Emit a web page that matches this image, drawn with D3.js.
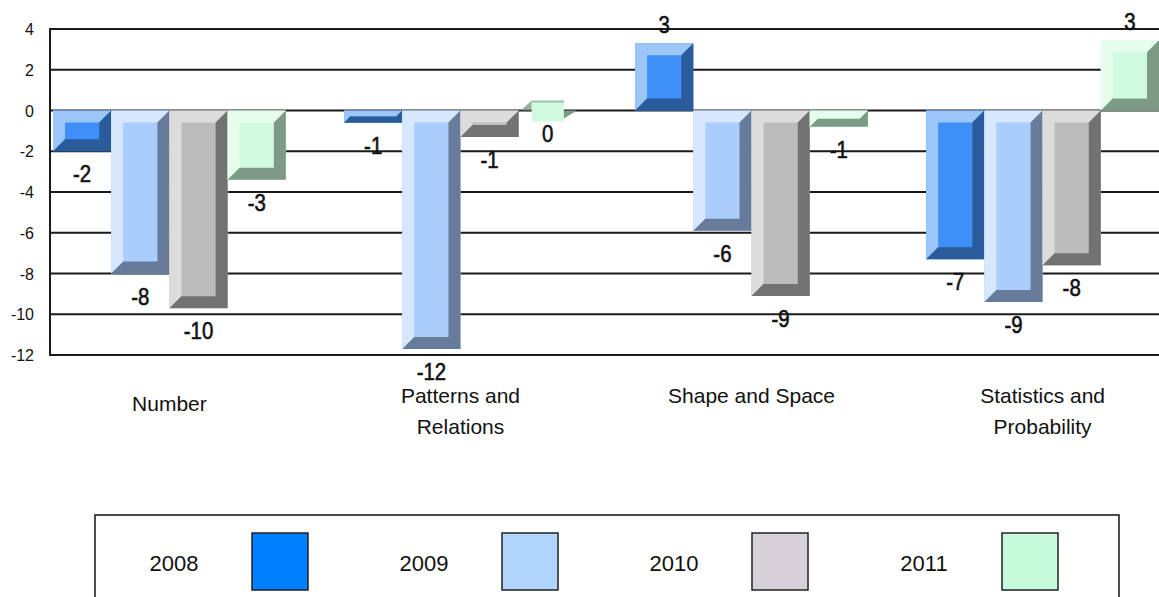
<!DOCTYPE html>
<html>
<head>
<meta charset="utf-8">
<script src="https://cdn.jsdelivr.net/npm/d3@7"></script>
<style>
  html, body { margin: 0; padding: 0; background: #fff; }
  svg { display: block; }
</style>
</head>
<body>
<div id="vis"></div>
<script>
// chart data
var categories = ["Number", "Patterns and Relations", "Shape and Space", "Statistics and Probability"];
var categoryLines = [["Number"], ["Patterns and", "Relations"], ["Shape and Space", ""], ["Statistics and", "Probability"]];
var years = ["2008", "2009", "2010", "2011"];
var values2008 = [-2.0, -0.6, 3.3, -7.3];
var values2009 = [-8.0, -11.7, -5.9, -9.4];
var values2010 = [-9.7, -1.3, -9.1, -7.6];
var values2011 = [-3.4, 0, -0.8, 3.45];
var yTicks = [4, 2, 0, -2, -4, -6, -8, -10, -12];

var series = [values2008, values2009, values2010, values2011];
var faceColors  = ["#3f8ff8", "#aacdfc", "#bcbcbc", "#d0fbe0"];
var lightColors = ["#9cc6f8", "#d6e7ff", "#dcdcdc", "#e6fdee"];
var darkColors  = ["#2a5c9c", "#667c9a", "#727272", "#7c9a85"];
var legendColors = ["#007fff", "#b0d4fc", "#d6d1d8", "#c6fbdc"];

var font = "'Liberation Sans', Arial, Helvetica, sans-serif";
var W = 1159, H = 597;

var svg = d3.select("#vis").append("svg")
    .attr("width", W)
    .attr("height", H);

var y = d3.scaleLinear().domain([-12, 4]).range([355, 29]);
var x = d3.scaleBand().domain(categories).range([53, 1159]).paddingInner(0.2).paddingOuter(0);
var xs = d3.scaleBand().domain(years).range([0, x.bandwidth()]);

var axisX = 50;

// gridlines
svg.append("g").selectAll("line")
    .data(yTicks)
    .join("line")
    .attr("x1", axisX)
    .attr("x2", W)
    .attr("y1", d => y(d))
    .attr("y2", d => y(d))
    .attr("stroke", "#1a1a1a")
    .attr("stroke-width", 2);

svg.append("line")
    .attr("x1", axisX).attr("x2", axisX)
    .attr("y1", y(4) - 1).attr("y2", y(-12) + 1)
    .attr("stroke", "#1a1a1a")
    .attr("stroke-width", 2);

// tick labels
svg.append("g").selectAll("text")
    .data(yTicks)
    .join("text")
    .attr("x", 34)
    .attr("y", d => y(d) + 6)
    .attr("text-anchor", "end")
    .style("font-family", font)
    .style("font-size", "16px")
    .attr("fill", "#111")
    .text(d => d);

// beveled bars
function pts(a) { return a.map(p => p.join(",")).join(" "); }

var bars = [];
categories.forEach(function (c, ci) {
    years.forEach(function (yr, si) {
        bars.push({ cat: c, year: yr, si: si, value: series[si][ci] });
    });
});

var barG = svg.append("g");
bars.forEach(function (d) {
    var x0 = x(d.cat) + xs(d.year);
    var x1 = x0 + xs.bandwidth();
    var g = barG.append("g");
    if (d.value === 0) {
        // flat zero-height bar drawn as a thin tilted box
        var z = y(0);
        var b = 11;
        g.append("polygon")
            .attr("points", pts([[x0 + 2, z], [x0 + b + 2, z - 10], [x0 + b + 2, z]]))
            .attr("fill", darkColors[d.si]).attr("opacity", 0.8);
        g.append("rect")
            .attr("x", x0 + b + 2).attr("y", z - 10)
            .attr("width", xs.bandwidth() - 2 * b - 4).attr("height", 21)
            .attr("fill", faceColors[d.si]);
        g.append("rect")
            .attr("x", x0 + b + 2).attr("y", z - 10)
            .attr("width", xs.bandwidth() - 2 * b - 4).attr("height", 2)
            .attr("fill", darkColors[d.si]).attr("opacity", 0.6);
        g.append("polygon")
            .attr("points", pts([[x1 - b - 2, z], [x1, z], [x1 - b - 2, z + 8]]))
            .attr("fill", darkColors[d.si]);
        return;
    }
    var yTop = Math.min(y(0), y(d.value));
    var yBot = Math.max(y(0), y(d.value));
    var h = yBot - yTop;
    var bv = Math.min(12, h / 2);
    g.append("rect")
        .attr("x", x0).attr("y", yTop)
        .attr("width", x1 - x0).attr("height", h)
        .attr("fill", faceColors[d.si]);
    g.append("polygon")
        .attr("points", pts([[x0, yTop], [x1, yTop], [x1 - bv, yTop + bv], [x0 + bv, yTop + bv], [x0 + bv, yBot - bv], [x0, yBot]]))
        .attr("fill", lightColors[d.si]);
    g.append("polygon")
        .attr("points", pts([[x1, yTop], [x1, yBot], [x0, yBot], [x0 + bv, yBot - bv], [x1 - bv, yBot - bv], [x1 - bv, yTop + bv]]))
        .attr("fill", darkColors[d.si]);
});

// value labels
svg.append("g").selectAll("text")
    .data(bars)
    .join("text")
    .attr("transform", function (d) {
        var cx = x(d.cat) + xs(d.year) + xs.bandwidth() / 2;
        var by = d.value > 0 ? y(d.value) - 10 : y(d.value) + 31;
        return "translate(" + cx + "," + by + ") scale(0.85,1)";
    })
    .attr("text-anchor", "middle")
    .style("font-family", font)
    .style("font-size", "24px")
    .attr("fill", "#111")
    .attr("stroke", "#111")
    .attr("stroke-width", 0.6)
    .text(d => String(Math.round(d.value)));

// category labels
var catG = svg.append("g").selectAll("text")
    .data(categories)
    .join("text")
    .attr("text-anchor", "middle")
    .style("font-family", font)
    .style("font-size", "21px")
    .attr("fill", "#111");

catG.each(function (c, i) {
    var lines = categoryLines[i];
    var base = lines.length > 1 ? 403 : 411;
    d3.select(this).selectAll("tspan")
        .data(lines)
        .join("tspan")
        .attr("x", x(c) + x.bandwidth() / 2)
        .attr("y", (l, k) => base + k * 31)
        .text(l => l);
});

// legend
svg.append("rect")
    .attr("x", 95).attr("y", 515)
    .attr("width", 1024).attr("height", 120)
    .attr("fill", "none")
    .attr("stroke", "#111")
    .attr("stroke-width", 1.5);

var lx = d3.scaleBand().domain(years).range([95, 1095]);

var legendItem = svg.append("g").selectAll("g")
    .data(years)
    .join("g")
    .attr("transform", d => "translate(" + lx(d) + ",0)");

legendItem.append("text")
    .attr("x", 79)
    .attr("y", 571)
    .attr("text-anchor", "middle")
    .style("font-family", font)
    .style("font-size", "22px")
    .attr("fill", "#111")
    .text(d => d);

legendItem.append("rect")
    .attr("x", 157)
    .attr("y", 533)
    .attr("width", 56)
    .attr("height", 57)
    .attr("fill", (d, i) => legendColors[i])
    .attr("stroke", "#222")
    .attr("stroke-width", 1.5);
</script>
</body>
</html>
